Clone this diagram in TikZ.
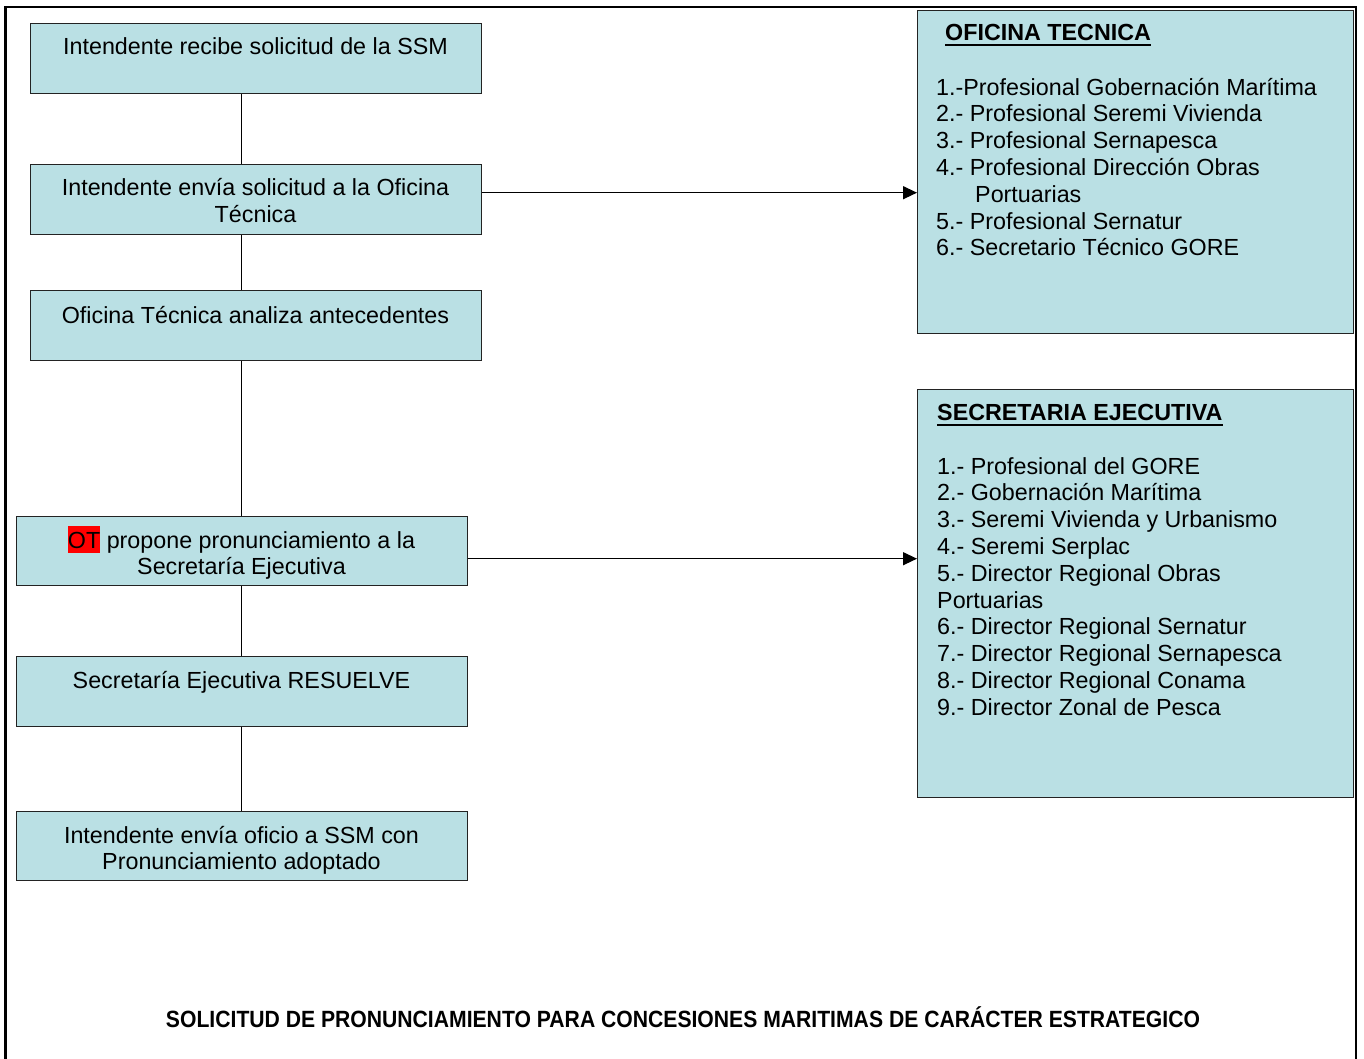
\documentclass[tikz,border=0pt]{standalone}
\usepackage{fontspec}
\usepackage{graphicx}
\setmainfont{Liberation Sans}
\usetikzlibrary{arrows.meta}
\definecolor{boxfill}{RGB}{186,224,228}
\definecolor{boxline}{RGB}{35,35,35}
\newcommand\hlOT{{\setlength\fboxsep{0pt}\colorbox{red}{\rule[-5pt]{0pt}{27pt}OT}}}
\begin{document}
\begin{tikzpicture}[x=1pt,y=-1pt,
  flowbox/.style={draw=boxline,fill=boxfill,line width=1.4pt,inner sep=0pt,anchor=north west},
  txt/.style={inner sep=0pt,font=\fontsize{23.3pt}{26.8pt}\selectfont},
  conn/.style={line width=1.3pt,black},
  arr/.style={line width=1.3pt,black,-{Triangle[length=14pt,width=13pt]}},
  ttl/.style={inner sep=0pt,font=\fontsize{23.3pt}{26.8pt}\selectfont\bfseries}]
\useasboundingbox (0,0) rectangle (1364,1059);
% outer frame
\draw[line width=2.5pt] (5.5,1059) -- (5.5,7) -- (1356,7) -- (1356,1059);

% left flow boxes
\node[flowbox,minimum width=451pt,minimum height=70pt] (b1) at (30,23) {};
\node[flowbox,minimum width=451pt,minimum height=70pt] (b2) at (30,164) {};
\node[flowbox,minimum width=451pt,minimum height=70pt] (b3) at (30,290) {};
\node[flowbox,minimum width=451pt,minimum height=69pt] (b4) at (16,516) {};
\node[flowbox,minimum width=451pt,minimum height=70pt] (b5) at (16,656) {};
\node[flowbox,minimum width=451pt,minimum height=69pt] (b6) at (16,811) {};

% (multi-line texts are anchored at the baseline of their last line)
\node[txt,anchor=base] (t1) at (255.5,55) {Intendente recibe solicitud de la SSM};
\node[txt,anchor=base,align=center] (t2) at (255.5,222.8) {Intendente envía solicitud a la Oficina\\Técnica};
\node[txt,anchor=base] (t3) at (255.5,323) {Oficina Técnica analiza antecedentes};
\node[txt,anchor=base,align=center] (t4) at (241.5,574.8) {\hlOT{} propone pronunciamiento a la\\Secretaría Ejecutiva};
\node[txt,anchor=base] (t5) at (241.5,688) {Secretaría Ejecutiva RESUELVE};
\node[txt,anchor=base,align=center] (t6) at (241.5,869.8) {Intendente envía oficio a SSM con\\Pronunciamiento adoptado};

% right boxes
\node[flowbox,minimum width=436pt,minimum height=323pt] (ot) at (917,10) {};
\node[flowbox,minimum width=436pt,minimum height=408pt] (se) at (917,389) {};

\node[ttl,anchor=base west] (ott) at (945,41) {OFICINA TECNICA};
\draw[line width=2pt] ([yshift=-4.5pt]ott.base west) -- ([yshift=-4.5pt]ott.base east);
\node[txt,anchor=base west,align=left] (otl) at (936,255.8) {1.-Profesional Gobernación Marítima\\
2.- Profesional Seremi Vivienda\\
3.- Profesional Sernapesca\\
4.- Profesional Dirección Obras\\
\hspace*{39pt}Portuarias\\
5.- Profesional Sernatur\\
6.- Secretario Técnico GORE};

\node[ttl,anchor=base west] (set) at (937,420) {SECRETARIA EJECUTIVA};
\draw[line width=2pt] ([yshift=-4.5pt]set.base west) -- ([yshift=-4.5pt]set.base east);
\node[txt,anchor=base west,align=left] (sel) at (937,715.2) {1.- Profesional del GORE\\
2.- Gobernación Marítima\\
3.- Seremi Vivienda y Urbanismo\\
4.- Seremi Serplac\\
5.- Director Regional Obras\\
Portuarias\\
6.- Director Regional Sernatur\\
7.- Director Regional Sernapesca\\
8.- Director Regional Conama\\
9.- Director Zonal de Pesca};

% connectors
\coordinate (vx) at (241.5,0);
\draw[conn] (b1.south -| vx) -- (b2.north -| vx);
\draw[conn] (b2.south -| vx) -- (b3.north -| vx);
\draw[conn] (b3.south -| vx) -- (b4.north -| vx);
\draw[conn] (b4.south -| vx) -- (b5.north -| vx);
\draw[conn] (b5.south -| vx) -- (b6.north -| vx);
\draw[arr] ([yshift=7pt]b2.east) coordinate (a1) -- (a1 -| ot.west);
\draw[arr] ([yshift=-7.5pt]b4.east) coordinate (a2) -- (a2 -| se.west);

% bottom title
\node[inner sep=0pt,anchor=base,font=\fontsize{23.5pt}{28pt}\selectfont\bfseries] (title) at (683,1027)
  {\scalebox{0.9}[1]{SOLICITUD DE PRONUNCIAMIENTO PARA CONCESIONES MARITIMAS DE CARÁCTER ESTRATEGICO}};
\end{tikzpicture}
\end{document}
